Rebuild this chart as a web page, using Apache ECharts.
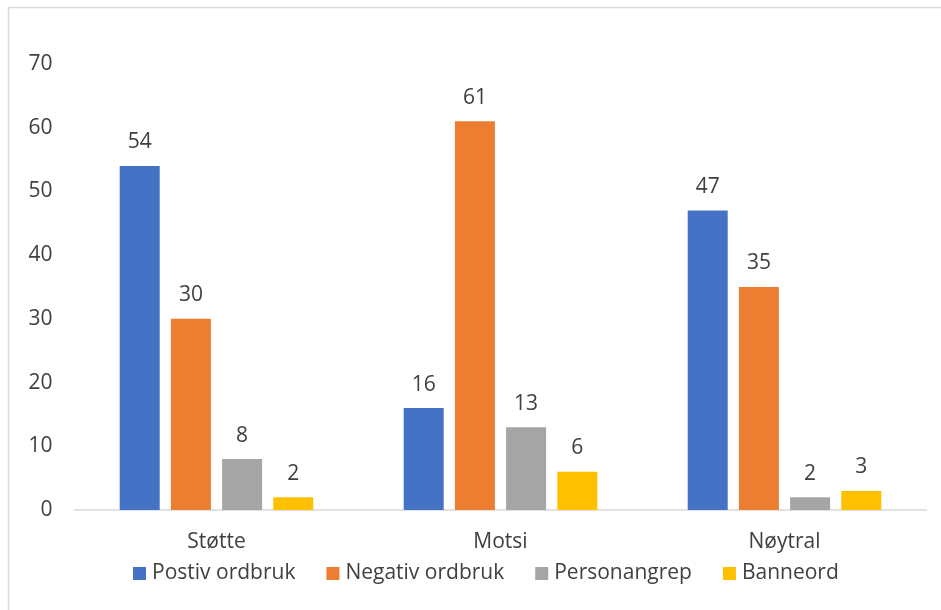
<!DOCTYPE html>
<html>
<head>
<meta charset="utf-8">
<script src="https://cdn.jsdelivr.net/npm/echarts@6/dist/echarts.min.js"></script>
<style>
  html, body { margin: 0; padding: 0; background: #fff; }
  #main { width: 941px; height: 610px; }
</style>
</head>
<body>
<div id="main"></div>
<script>
// kategorier og verdier
var categories = ["Støtte", "Motsi", "Nøytral"];
var seriesNames = ["Postiv ordbruk", "Negativ ordbruk", "Personangrep", "Banneord"];
var postiv = [54, 16, 47];
var negativ = [30, 61, 35];
var personangrep = [8, 13, 2];
var banneord = [2, 6, 3];
var yTicks = [0, 10, 20, 30, 40, 50, 60, 70];

var colors = ["#4472C4", "#ED7D31", "#A5A5A5", "#FFC000"];
var textColor = "#404040";
var font = "'Open Sans', 'Noto Sans', sans-serif";

var chart = echarts.init(document.getElementById("main"));

function bar(name, data, color) {
    return {
        name: name,
        type: "bar",
        data: data,
        barWidth: 40,
        barGap: "28%",
        itemStyle: { color: color },
        label: {
            show: true,
            position: "top",
            distance: 13,
            color: textColor,
            fontSize: 21,
            fontFamily: font
        }
    };
}

var option = {
    animation: false,
    backgroundColor: "#fff",
    color: colors,
    // ramme rundt diagrammet
    graphic: [{
        type: "rect",
        shape: { x: 8.5, y: 7.5, width: 960, height: 640 },
        style: { fill: "none", stroke: "#d9d9d9", lineWidth: 1.5 },
        silent: true
    }],
    grid: { left: 74.5, right: 14.5, top: 64, bottom: 100 },
    legend: {
        bottom: 21,
        left: 128,
        itemWidth: 13,
        itemHeight: 13,
        itemGap: 31,
        icon: "rect",
        textStyle: { color: textColor, fontSize: 21, fontFamily: font, padding: [0, 0, 0, 1] },
        data: seriesNames
    },
    xAxis: {
        type: "category",
        data: categories,
        axisLine: { lineStyle: { color: "#d9d9d9", width: 1.5 } },
        axisTick: { show: false },
        axisLabel: { color: textColor, fontSize: 21, fontFamily: font, margin: 22 }
    },
    yAxis: {
        type: "value",
        min: yTicks[0],
        max: yTicks[yTicks.length - 1],
        interval: 10,
        splitLine: { show: false },
        axisLine: { show: false },
        axisTick: { show: false },
        axisLabel: { color: textColor, fontSize: 21, fontFamily: font, margin: 22 }
    },
    series: [
        bar(seriesNames[0], postiv, colors[0]),
        bar(seriesNames[1], negativ, colors[1]),
        bar(seriesNames[2], personangrep, colors[2]),
        bar(seriesNames[3], banneord, colors[3])
    ]
};

chart.setOption(option);
</script>
</body>
</html>
